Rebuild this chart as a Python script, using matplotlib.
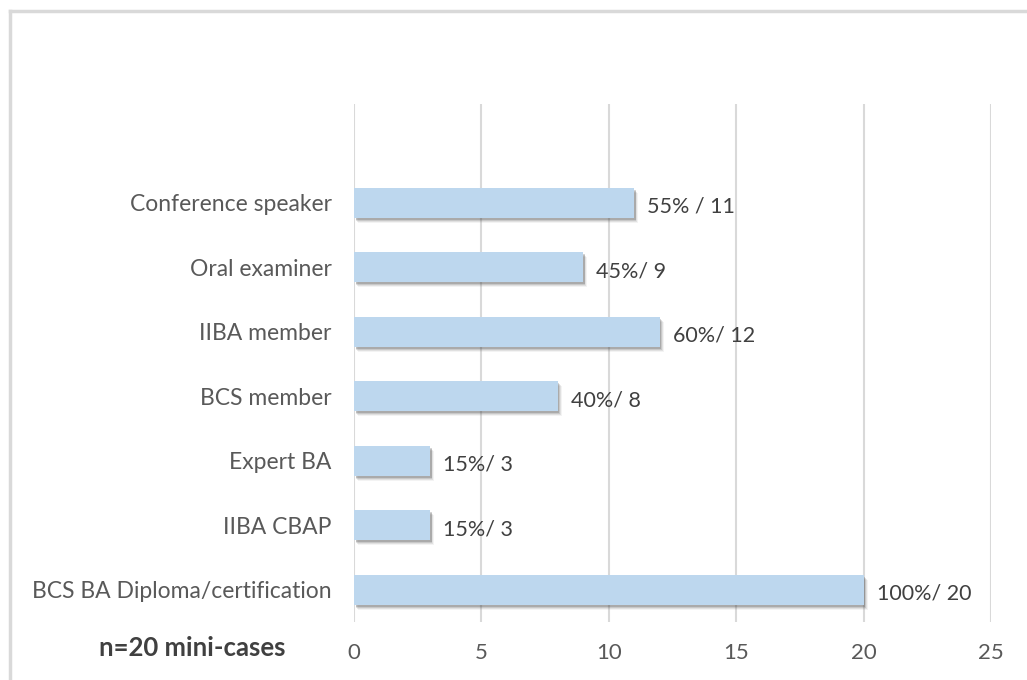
import matplotlib.pyplot as plt
from matplotlib.lines import Line2D
from matplotlib.transforms import ScaledTranslation

categories = ['BCS BA Diploma/certification', 'IIBA CBAP', 'Expert BA', 'BCS member',
              'IIBA member', 'Oral examiner', 'Conference speaker']
counts = [20, 3, 3, 8, 12, 9, 11]
bar_labels = ['100%/ 20', '15%/ 3', '15%/ 3', '40%/ 8', '60%/ 12', '45%/ 9', '55% / 11']
x_ticks = [0, 5, 10, 15, 20, 25]

plt.rcParams['font.family'] = ['Lato', 'DejaVu Sans']

fig = plt.figure(figsize=(10.27, 6.8), dpi=100)
ax = fig.add_axes([354 / 1027, 58 / 680, 637 / 1027, 518 / 680])

pos = list(range(len(categories)))

# soft drop shadow under the bars
for dx, dy, a in [(4, -5, 0.06), (3, -4, 0.10), (2, -3, 0.15), (1.5, -2, 0.22)]:
    shift = ScaledTranslation(dx / 100, dy / 100, fig.dpi_scale_trans)
    ax.barh(pos, counts, height=0.47, color='#404040', alpha=a,
            transform=ax.transData + shift, zorder=2)

ax.barh(pos, counts, height=0.47, color='#BDD7EE', zorder=3)

for p, c, lab in zip(pos, counts, bar_labels):
    ax.annotate(lab, (c, p), xytext=(13, -4), textcoords='offset pixels',
                va='center', ha='left', fontsize=15.5, color='#404040')

ax.set_xlim(0, 25)
ax.set_ylim(-0.5, 7.53)
ax.set_xticks(x_ticks)
ax.set_yticks(pos)
ax.set_yticklabels(categories)
ax.xaxis.grid(True, color='#D9D9D9', linewidth=1.5, zorder=0)
ax.set_axisbelow(True)
ax.tick_params(axis='x', length=0, labelsize=16, labelcolor='#595959', pad=15)
ax.tick_params(axis='y', length=0, labelsize=16.5, labelcolor='#595959', pad=16)
for s in ax.spines.values():
    s.set_visible(False)

fig.text(192 / 1027, 1 - 648 / 680, 'n=20 mini-cases', ha='center', va='center',
         fontsize=18.5, fontweight='bold', color='#404040')

# outer frame (left and top edges visible)
fig.add_artist(Line2D([9.5 / 1027, 9.5 / 1027], [0, 1 - 11 / 680], color='#D9D9D9', linewidth=2.5))
fig.add_artist(Line2D([9.5 / 1027, 1], [1 - 11 / 680, 1 - 11 / 680], color='#D9D9D9', linewidth=2.5))

fig.savefig('out.png', dpi=100)
